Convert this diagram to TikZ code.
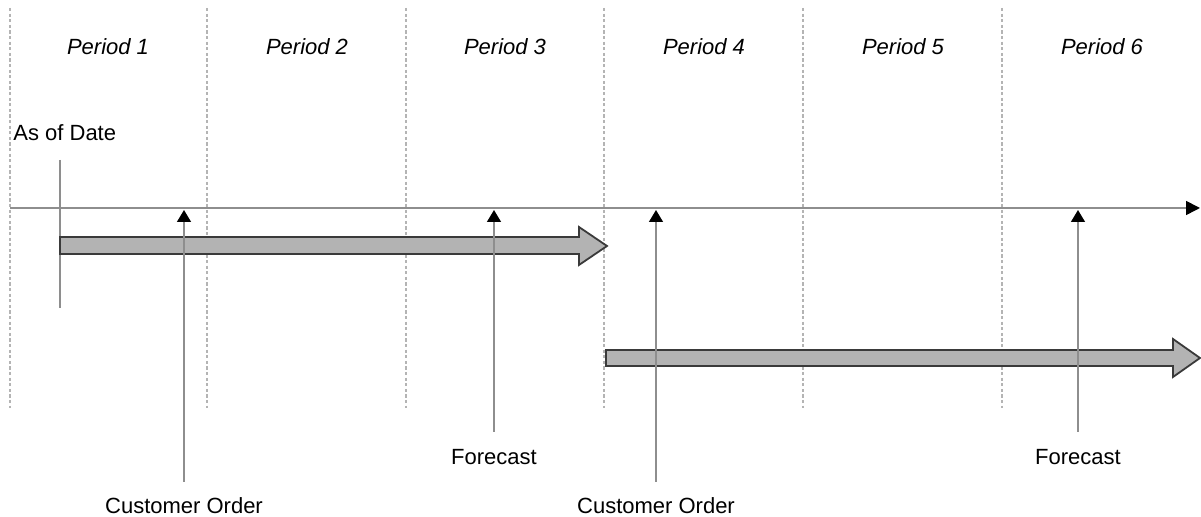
\documentclass[tikz,border=0pt]{standalone}
\usepackage{fontspec}
\setmainfont{Liberation Sans}
\usetikzlibrary{arrows.meta}
\definecolor{axisgray}{HTML}{8E8E8E}
\definecolor{gridgray}{HTML}{B4B4B4}
\definecolor{barfill}{HTML}{B3B3B3}
\definecolor{barline}{HTML}{3A3A3A}
\tikzset{
  period/.style={font=\fontsize{11}{13}\selectfont\itshape, inner sep=0pt},
  lbl/.style={font=\fontsize{11}{13}\selectfont, inner sep=0pt},
  divider/.style={draw=gridgray, line width=0.55pt, dash pattern=on 1.6pt off 1.2pt},
  axis/.style={draw=axisgray, line width=0.8pt, -{Triangle[width=7pt,length=7pt]}, arrows={-{Triangle[width=7pt,length=7pt,color=black]}}},
  marker/.style={draw=axisgray, line width=0.7pt, -{Triangle[width=7pt,length=6pt,color=black]}},
  plain/.style={draw=axisgray, line width=0.7pt},
  bar/.style={fill=barfill, draw=barline, line width=0.9pt, line join=miter}
}
\begin{document}
\begin{tikzpicture}[x=0.5pt, y=-0.5pt]
\useasboundingbox (0,0) rectangle (1201,517);

% period dividers
\foreach \xx/\nm in {10/d0, 207/d1, 406/d2, 604/d3, 803/d4, 1002/d5}{
  \coordinate (\nm top) at (\xx,8);
  \coordinate (\nm bot) at (\xx,408);
  \draw[divider] (\nm top) -- (\nm bot);
}

% period headings
\foreach \xx/\k in {108/1, 307/2, 505/3, 704/4, 903/5, 1102/6}{
  \node[period] (p\k) at (\xx,47) {Period \k};
}

% time axis
\coordinate (axstart) at (10,208);
\coordinate (axend) at (1200,208);
\draw[axis] (axstart) -- (axend);

% as-of date marker
\node[lbl, anchor=west] (asof) at (13,133) {As of Date};
\coordinate (asoftop) at (60,160);
\coordinate (asofbot) at (60,308);
\draw[plain] (asoftop) -- (asofbot);

% horizon bars
\draw[bar] (60,237) -- (579,237) -- (579,227) -- (607,246) -- (579,265) -- (579,254) -- (60,254) -- cycle;
\draw[bar] (606,350) -- (1173,350) -- (1173,339) -- (1200,358) -- (1173,377) -- (1173,366) -- (606,366) -- cycle;

% event markers and their labels
\node[lbl] (co1) at (184,506) {Customer Order};
\node[lbl] (fc1) at (494,457) {Forecast};
\node[lbl] (co2) at (656,506) {Customer Order};
\node[lbl] (fc2) at (1078,457) {Forecast};

\coordinate (co1b) at (184,482);  \coordinate (co1t) at (184,210);
\coordinate (fc1b) at (494,432);  \coordinate (fc1t) at (494,210);
\coordinate (co2b) at (656,482);  \coordinate (co2t) at (656,210);
\coordinate (fc2b) at (1078,432); \coordinate (fc2t) at (1078,210);

\draw[marker] (co1b) -- (co1t);
\draw[marker] (fc1b) -- (fc1t);
\draw[marker] (co2b) -- (co2t);
\draw[marker] (fc2b) -- (fc2t);
\end{tikzpicture}
\end{document}
